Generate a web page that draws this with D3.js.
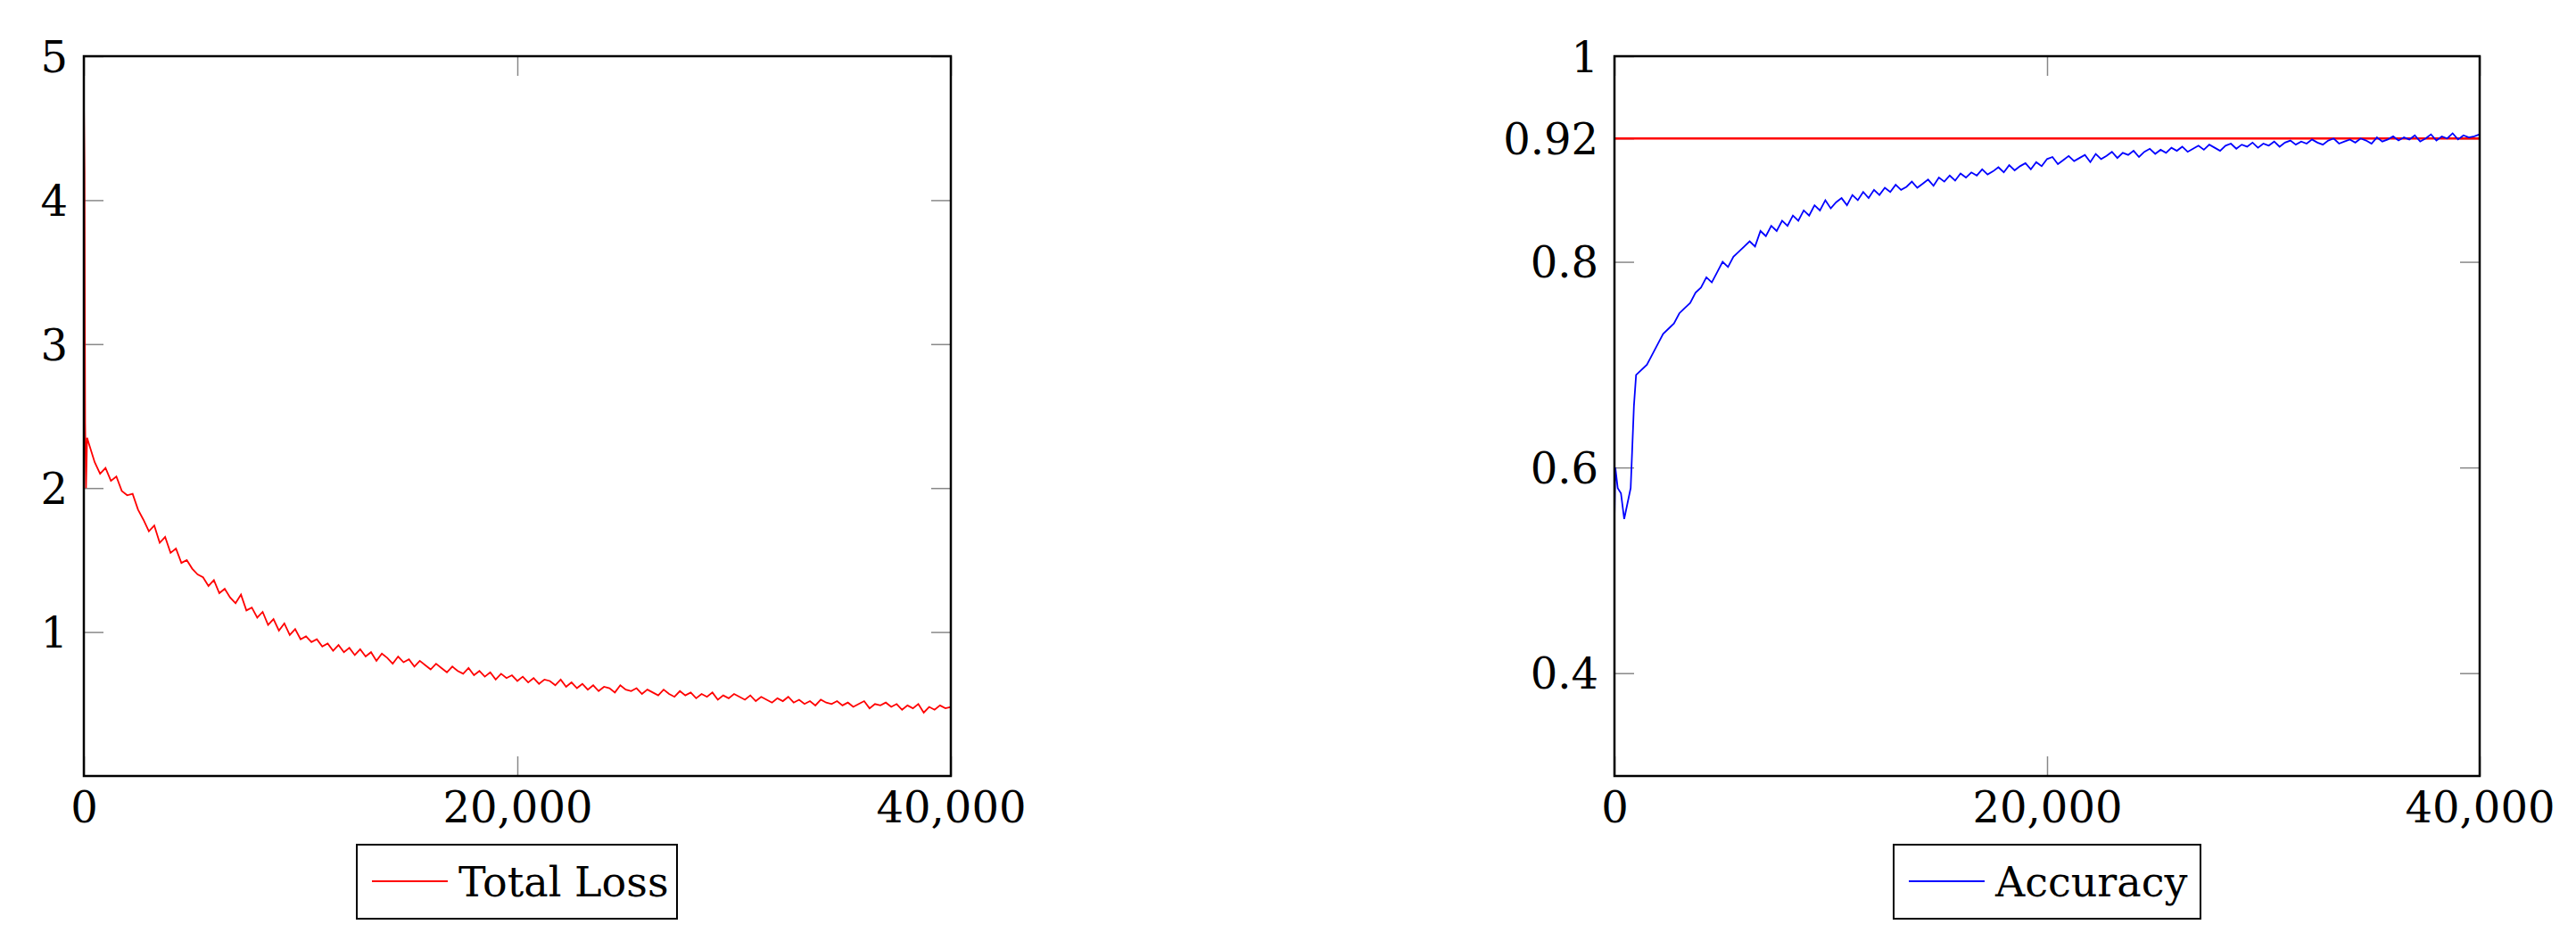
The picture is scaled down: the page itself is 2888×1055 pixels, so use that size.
<!DOCTYPE html>
<html><head><meta charset="utf-8">
<script src="https://cdn.jsdelivr.net/npm/d3@7"></script>
<style>body{margin:0;background:#fff}text{font-family:"DejaVu Serif",serif;fill:#000}</style>
</head><body><div class="canvas"></div>
<script>
const w = 2888, h = 1055;

// early steps then regular 250-step samples
const lossEarlySteps = [0, 30, 60, 100, 150];
const lossEarly = [4.7, 4.2, 2.45, 2.0, 2.35];
const lossValues = [
 2.30,2.18,2.10,2.14,2.05,2.08,1.98,1.95,1.96,1.85,
 1.78,1.70,1.74,1.62,1.66,1.55,1.58,1.48,1.50,1.44,
 1.40,1.38,1.32,1.36,1.27,1.30,1.24,1.20,1.26,1.15,
 1.17,1.10,1.14,1.05,1.09,1.01,1.06,0.98,1.02,0.95,
 0.97,0.93,0.95,0.90,0.92,0.87,0.91,0.86,0.89,0.84,
 0.88,0.83,0.86,0.80,0.85,0.82,0.78,0.83,0.79,0.81,
 0.76,0.80,0.77,0.74,0.78,0.75,0.72,0.76,0.73,0.71,
 0.75,0.70,0.73,0.69,0.72,0.67,0.71,0.68,0.70,0.66,
 0.69,0.65,0.68,0.64,0.67,0.66,0.63,0.67,0.62,0.65,
 0.61,0.64,0.60,0.63,0.59,0.62,0.61,0.58,0.63,0.60,
 0.59,0.61,0.57,0.60,0.58,0.56,0.60,0.57,0.55,0.59,
 0.56,0.58,0.54,0.57,0.55,0.58,0.53,0.56,0.54,0.57,
 0.55,0.53,0.56,0.52,0.55,0.53,0.51,0.54,0.52,0.55,
 0.51,0.53,0.50,0.52,0.49,0.53,0.51,0.50,0.52,0.49,
 0.51,0.48,0.50,0.52,0.47,0.50,0.49,0.51,0.48,0.50,
 0.46,0.49,0.47,0.50,0.44,0.48,0.46,0.49,0.47,0.48];
const lossStart = 250;

const accEarlySteps = [0, 40, 150, 300, 450, 600, 750, 900, 1000];
const accEarly = [0.55, 0.60, 0.58, 0.575, 0.55, 0.565, 0.58, 0.66, 0.69];
const accValues = [
 0.695,0.70,0.71,0.72,0.73,0.735,0.74,0.75,0.755,0.76,
 0.77,0.775,0.785,0.78,0.79,0.80,0.795,0.805,0.81,0.815,
 0.82,0.815,0.83,0.825,0.835,0.83,0.84,0.835,0.845,0.84,
 0.85,0.845,0.855,0.85,0.86,0.852,0.858,0.862,0.855,0.865,
 0.86,0.868,0.862,0.87,0.865,0.872,0.868,0.875,0.87,0.873,
 0.878,0.872,0.876,0.88,0.874,0.882,0.878,0.884,0.879,0.886,
 0.882,0.887,0.884,0.89,0.885,0.888,0.892,0.887,0.894,0.889,
 0.893,0.896,0.89,0.897,0.893,0.90,0.902,0.895,0.899,0.903,
 0.898,0.901,0.904,0.897,0.905,0.90,0.903,0.907,0.901,0.906,
 0.904,0.908,0.902,0.907,0.91,0.905,0.909,0.906,0.911,0.908,
 0.912,0.907,0.91,0.913,0.909,0.914,0.911,0.908,0.913,0.915,
 0.91,0.914,0.912,0.916,0.911,0.915,0.913,0.917,0.912,0.916,
 0.918,0.914,0.917,0.915,0.919,0.916,0.914,0.918,0.92,0.915,
 0.917,0.919,0.916,0.92,0.918,0.915,0.921,0.917,0.919,0.922,
 0.918,0.921,0.919,0.923,0.917,0.92,0.924,0.918,0.922,0.92,
 0.925,0.919,0.923,0.921,0.922,0.924];
const accStart = 1250;
const accTarget = 0.92;

const xTicks = [0, 20000, 40000];
const lossTicks = [1, 2, 3, 4, 5];
const accTicks = [0.4, 0.6, 0.8, 0.92, 1];

function series(es, ev, start, vals) {
  return es.map((s, i) => [s, ev[i]]).concat(vals.map((v, i) => [start + i * 250, v]));
}

const svg = d3.select(".canvas").append("svg").attr("width", w).attr("height", h);
const top0 = 63, bot0 = 870;

function panel(cfg) {
  const x = d3.scaleLinear().domain([0, 40000]).range([cfg.x0, cfg.x1]);
  const y = d3.scaleLinear().domain(cfg.yDomain).range([bot0, top0]);
  const g = svg.append("g");
  const fmt = d3.format(",");
  // mirrored inner ticks
  [[d3.axisBottom(x).tickValues(xTicks).tickSize(-22).tickFormat(fmt), bot0],
   [d3.axisTop(x).tickValues(xTicks).tickSize(-22).tickFormat(""), top0]].forEach(([ax, ty]) => {
    const a = g.append("g").attr("transform", `translate(0,${ty})`).call(ax);
    a.select(".domain").remove();
    a.selectAll("line").attr("stroke", "#888").attr("stroke-width", 1.5);
    a.selectAll("text").style("font-size", "48px").attr("y", 35).attr("dy", "0.36em");
  });
  [[d3.axisLeft(y).tickValues(cfg.yTicks).tickSize(-22).tickFormat(d => d), cfg.x0],
   [d3.axisRight(y).tickValues(cfg.yTicks).tickSize(-22).tickFormat(""), cfg.x1]].forEach(([ax, tx]) => {
    const a = g.append("g").attr("transform", `translate(${tx},0)`).call(ax);
    a.select(".domain").remove();
    a.selectAll("line").attr("stroke", "#888").attr("stroke-width", 1.5);
    a.selectAll("text").style("font-size", "48px").attr("x", -18).attr("dy", "0.36em");
  });
  if (cfg.hline != null) {
    g.append("line").attr("x1", cfg.x0).attr("x2", cfg.x1)
      .attr("y1", y(cfg.hline)).attr("y2", y(cfg.hline))
      .attr("stroke", "red").attr("stroke-width", 2.5);
  }
  g.append("path").datum(cfg.data)
    .attr("d", d3.line().x(d => x(d[0])).y(d => y(d[1])))
    .attr("fill", "none").attr("stroke", cfg.color).attr("stroke-width", 1.8);
  g.append("rect").attr("x", cfg.x0).attr("y", top0).attr("width", cfg.x1 - cfg.x0).attr("height", bot0 - top0)
    .attr("fill", "none").attr("stroke", "#000").attr("stroke-width", 2.5);
  // legend
  const lx = cfg.legend[0], lw = cfg.legend[1];
  const lg = g.append("g").attr("transform", `translate(${lx},947)`);
  lg.append("rect").attr("width", lw).attr("height", 83).attr("fill", "#fff").attr("stroke", "#000").attr("stroke-width", 2);
  lg.append("line").attr("x1", 17).attr("x2", 102).attr("y1", 41).attr("y2", 41).attr("stroke", cfg.color).attr("stroke-width", 2);
  lg.append("text").attr("x", 114).attr("y", 41).attr("dy", "0.36em").style("font-size", "46px").text(cfg.label);
}

panel({x0: 94, x1: 1066, yDomain: [0, 5], yTicks: lossTicks, data: series(lossEarlySteps, lossEarly, lossStart, lossValues),
  color: "red", label: "Total Loss", legend: [400, 359]});
panel({x0: 1810, x1: 2780, yDomain: [0.3, 1], yTicks: accTicks, data: series(accEarlySteps, accEarly, accStart, accValues),
  color: "blue", label: "Accuracy", legend: [2123, 344], hline: accTarget});
</script></body></html>
